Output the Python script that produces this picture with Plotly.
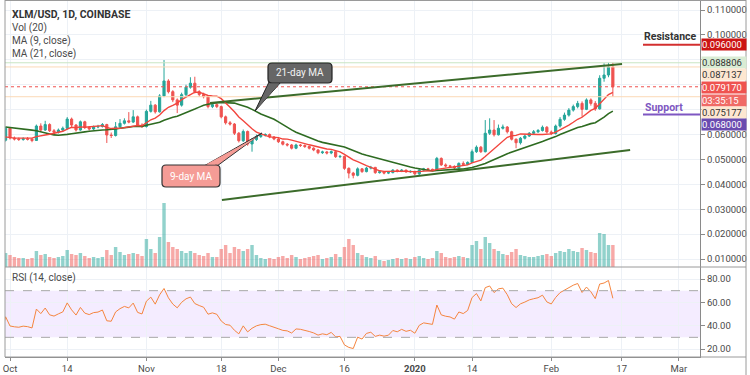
import plotly.graph_objects as go
import pandas as pd
import numpy as np

# ---------------- data ----------------
# closes before the visible window, only used to warm up MA / RSI
pre_dates = pd.date_range('2019-09-10', '2019-09-29')
pre_close = [0.0620, 0.0615, 0.0618, 0.0625, 0.0630, 0.0640, 0.0680, 0.0720, 0.0740, 0.0700,
             0.0680, 0.0650, 0.0610, 0.0600, 0.0580, 0.0585, 0.0575, 0.0580, 0.0578, 0.0577]

dates = pd.date_range('2019-09-30', '2020-02-15')

close = [0.0625, 0.0586, 0.0582, 0.0580, 0.0583, 0.0581, 0.0576, 0.0634, 0.0618, 0.0640, 0.0615,
         0.0610, 0.0618, 0.0625, 0.0662, 0.0638, 0.0618, 0.0651, 0.0628, 0.0622, 0.0630,
         0.0632, 0.0640, 0.0598, 0.0596, 0.0631, 0.0645, 0.0655, 0.0650, 0.0671, 0.0638,
         0.0632, 0.0693, 0.0718, 0.0691, 0.0755, 0.0815, 0.0772, 0.0739, 0.0718, 0.0760,
         0.0790, 0.0806, 0.0772, 0.0761, 0.0752, 0.0712, 0.0720, 0.0712, 0.0671, 0.0647,
         0.0642, 0.0605, 0.0575, 0.0612, 0.0562, 0.0580, 0.0592, 0.0598, 0.0600, 0.0590,
         0.0582, 0.0571, 0.0561, 0.0558, 0.0545, 0.0558, 0.0556, 0.0552, 0.0545, 0.0538,
         0.0527, 0.0530, 0.0526, 0.0531, 0.0511, 0.0512, 0.0464, 0.0445, 0.0436, 0.0462,
         0.0451, 0.0465, 0.0468, 0.0447, 0.0450, 0.0445, 0.0447, 0.0457, 0.0452, 0.0457,
         0.0450, 0.0452, 0.0442, 0.0457, 0.0462, 0.0460, 0.0458, 0.0504, 0.0478, 0.0474,
         0.0472, 0.0466, 0.0484, 0.0480, 0.0488, 0.0531, 0.0549, 0.0531, 0.0605, 0.0618,
         0.0599, 0.0625, 0.0630, 0.0611, 0.0581, 0.0567, 0.0585, 0.0594, 0.0605, 0.0611,
         0.0616, 0.0629, 0.0610, 0.0604, 0.0634, 0.0661, 0.0678, 0.0698, 0.0712, 0.0725,
         0.0701, 0.0739, 0.0725, 0.0703, 0.0826, 0.0839, 0.087137, 0.07917]

high = [0.0632, 0.0630, 0.0592, 0.0588, 0.0589, 0.0590, 0.0586, 0.0640, 0.0645, 0.0655, 0.0645,
        0.0622, 0.0624, 0.0632, 0.0670, 0.0668, 0.0642, 0.0656, 0.0655, 0.0634, 0.0636,
        0.0639, 0.0646, 0.0643, 0.0608, 0.0650, 0.0662, 0.0665, 0.0690, 0.0698, 0.0676,
        0.0645, 0.0700, 0.0735, 0.0722, 0.0762, 0.0899, 0.0822, 0.0778, 0.0745, 0.0768,
        0.0800, 0.0830, 0.0832, 0.0778, 0.0768, 0.0756, 0.0728, 0.0726, 0.0716, 0.0676,
        0.0654, 0.0646, 0.0610, 0.0620, 0.0616, 0.0586, 0.0600, 0.0606, 0.0605, 0.0604,
        0.0594, 0.0586, 0.0575, 0.0566, 0.0562, 0.0563, 0.0562, 0.0560, 0.0556, 0.0549,
        0.0541, 0.0535, 0.0534, 0.0536, 0.0534, 0.0518, 0.0515, 0.0468, 0.0450, 0.0468,
        0.0465, 0.0470, 0.0474, 0.0470, 0.0455, 0.0453, 0.0452, 0.0461, 0.0460, 0.0461,
        0.0459, 0.0456, 0.0454, 0.0461, 0.0466, 0.0466, 0.0463, 0.0510, 0.0508, 0.0484,
        0.0478, 0.0476, 0.0488, 0.0492, 0.0492, 0.0540, 0.0556, 0.0554, 0.0658, 0.0665,
        0.0658, 0.0640, 0.0640, 0.0634, 0.0615, 0.0584, 0.0590, 0.0600, 0.0610, 0.0618,
        0.0622, 0.0636, 0.0634, 0.0616, 0.0640, 0.0670, 0.0688, 0.0706, 0.0720, 0.0735,
        0.0733, 0.0745, 0.0745, 0.0734, 0.0838, 0.0886, 0.0888, 0.088806]

low = [0.0572, 0.0580, 0.0576, 0.0574, 0.0575, 0.0576, 0.0569, 0.0574, 0.0612, 0.0614, 0.0610,
       0.0602, 0.0604, 0.0612, 0.0620, 0.0630, 0.0612, 0.0615, 0.0622, 0.0616, 0.0618,
       0.0625, 0.0628, 0.0566, 0.0586, 0.0592, 0.0628, 0.0640, 0.0645, 0.0646, 0.0632,
       0.0626, 0.0628, 0.0688, 0.0684, 0.0688, 0.0750, 0.0765, 0.0730, 0.0686, 0.0712,
       0.0750, 0.0784, 0.0765, 0.0752, 0.0745, 0.0705, 0.0706, 0.0706, 0.0665, 0.0640,
       0.0636, 0.0598, 0.0568, 0.0570, 0.0555, 0.0531, 0.0574, 0.0586, 0.0592, 0.0585,
       0.0577, 0.0566, 0.0556, 0.0552, 0.0540, 0.0541, 0.0550, 0.0546, 0.0540, 0.0533,
       0.0521, 0.0522, 0.0520, 0.0521, 0.0506, 0.0505, 0.0458, 0.0424, 0.0424, 0.0432,
       0.0446, 0.0448, 0.0460, 0.0442, 0.0443, 0.0440, 0.0441, 0.0444, 0.0448, 0.0449,
       0.0446, 0.0446, 0.0436, 0.0435, 0.0452, 0.0455, 0.0453, 0.0455, 0.0474, 0.0468,
       0.0466, 0.0460, 0.0463, 0.0476, 0.0477, 0.0486, 0.0526, 0.0526, 0.0528, 0.0598,
       0.0592, 0.0596, 0.0620, 0.0604, 0.0576, 0.0545, 0.0560, 0.0580, 0.0590, 0.0600,
       0.0606, 0.0612, 0.0604, 0.0598, 0.0600, 0.0628, 0.0655, 0.0672, 0.0692, 0.0705,
       0.0671, 0.0698, 0.0716, 0.0695, 0.0700, 0.0812, 0.0830, 0.075177]

# daily volume (millions of XLM, relative)
volume = [14, 12, 10, 9, 9, 8, 9, 16, 12, 13, 10,
          9, 10, 11, 17, 13, 12, 14, 11, 9, 10,
          9, 10, 17, 12, 20, 15, 12, 13, 14, 13,
          11, 28, 18, 14, 30, 64, 25, 20, 18, 16,
          14, 16, 14, 12, 11, 14, 10, 10, 18, 22,
          14, 20, 18, 16, 18, 22, 12, 9, 8, 9,
          8, 10, 11, 9, 12, 10, 8, 9, 10, 11,
          12, 8, 9, 10, 13, 10, 20, 28, 22, 14,
          12, 10, 9, 11, 7, 6, 7, 8, 9, 8,
          9, 8, 10, 11, 9, 8, 9, 16, 14, 10,
          9, 10, 11, 10, 9, 22, 26, 18, 30, 24,
          18, 16, 13, 12, 15, 18, 12, 11, 10, 10,
          11, 12, 13, 11, 14, 16, 15, 18, 16, 15,
          19, 17, 15, 14, 34, 33, 22, 22]

assert len(close) == len(high) == len(low) == len(volume) == len(dates)

# chart drawings
upper_trend_dates = ['2019-11-15 11:00', '2020-02-17 02:00']
upper_trend_prices = [0.0727, 0.0883]
lower_trend_dates = ['2019-11-18 04:00', '2020-02-18 22:00']
lower_trend_prices = [0.0337, 0.0538]
resistance_price = 0.096
support_price = 0.068
last_high, last_open, last_close, last_low = 0.088806, 0.087137, 0.07917, 0.075177

price_ticks = [0.01, 0.02, 0.03, 0.04, 0.05, 0.06, 0.07, 0.08, 0.09, 0.10, 0.11]
# 0.07-0.09 are hidden behind the coloured price tags on the axis
price_tick_text = ['0.010000', '0.020000', '0.030000', '0.040000', '0.050000', '0.060000',
                   '', '', '', '0.100000', '0.110000']
rsi_ticks = [20, 40, 60, 80]
x_tick_dates = ['2019-10-01', '2019-10-14', '2019-11-01', '2019-11-18', '2019-12-01', '2019-12-16',
                '2020-01-01', '2020-01-14', '2020-02-01', '2020-02-17', '2020-03-01']
x_tick_text = ['Oct', '14', 'Nov', '18', 'Dec', '16', '<b>2020</b>', '14', 'Feb', '17', 'Mar']

# ---------------- indicators ----------------
open_ = [pre_close[-1]] + close[:-1]
all_dates = pre_dates.append(dates)
all_close = pd.Series(pre_close + close, index=all_dates)
ma9 = all_close.rolling(9).mean()
ma21 = all_close.rolling(21).mean()
delta = all_close.diff()
gain = delta.clip(lower=0).ewm(alpha=1 / 14, adjust=False).mean()
loss = (-delta.clip(upper=0)).ewm(alpha=1 / 14, adjust=False).mean()
rsi = 100 - 100 / (1 + gain / loss)
rsi.iloc[:14] = np.nan

UP = '#26a69a'
DN = '#ef5350'
vol_colors = ['rgba(38,166,154,0.5)' if c >= o else 'rgba(239,83,80,0.5)' for o, c in zip(open_, close)]

fig = go.Figure()
fig.add_trace(go.Bar(x=dates, y=volume, marker=dict(color=vol_colors, line=dict(width=0)),
                     xaxis='x', yaxis='y', hoverinfo='skip'))
fig.add_trace(go.Scatter(x=all_dates, y=ma21, mode='lines', line=dict(color='#2e6b21', width=1.6),
                         xaxis='x', yaxis='y3'))
fig.add_trace(go.Scatter(x=all_dates, y=ma9, mode='lines', line=dict(color='#f2453d', width=1.4),
                         xaxis='x', yaxis='y3'))
fig.add_trace(go.Candlestick(x=dates, open=open_, high=high, low=low, close=close,
                             increasing=dict(line=dict(color=UP, width=1), fillcolor=UP),
                             decreasing=dict(line=dict(color=DN, width=1), fillcolor=DN),
                             whiskerwidth=0, xaxis='x', yaxis='y3'))
fig.add_trace(go.Scatter(x=all_dates, y=rsi, mode='lines', line=dict(color='#f5853f', width=1),
                         xaxis='x', yaxis='y2'))

PLOT_H = 357.0
PLOT_W = 695.0
split = 90 / PLOT_H
def px(xp):
    return (xp - 5) / PLOT_W
def py(yp):
    return 1 - yp / PLOT_H

GRID = '#edf1f6'
AX = '#8a8a8a'
FONT = 'Roboto, Arial, sans-serif'
TICKFONT = dict(size=9.5, color='#4a4a4a', family=FONT)

fig.update_layout(
    width=750, height=375, margin=dict(l=5, r=50, t=0, b=18, autoexpand=False),
    paper_bgcolor='white', plot_bgcolor='white', showlegend=False,
    font=dict(family=FONT, size=10, color='#4a4a4a'),
    bargap=0.22,
    xaxis=dict(domain=[0, 1], anchor='y2', type='date',
               range=['2019-09-29 20:44', '2020-03-05 19:12'],
               tickvals=x_tick_dates, ticktext=x_tick_text, tickangle=0,
               showgrid=True, gridcolor=GRID, gridwidth=1,
               ticks='outside', ticklen=3, tickcolor=AX,
               showline=True, linecolor=AX, linewidth=1, automargin=False,
               rangeslider=dict(visible=False), tickfont=TICKFONT),
    yaxis=dict(domain=[split, 1], anchor='x', range=[0, 267], visible=False, showgrid=False),
    yaxis3=dict(overlaying='y', anchor='x', side='right', range=[0.00679, 0.11402],
                tickvals=price_ticks, ticktext=price_tick_text, showgrid=True, gridcolor=GRID,
                ticks='outside', ticklen=4, tickcolor=AX, showline=True, linecolor=AX,
                zeroline=False, automargin=False, tickfont=TICKFONT),
    yaxis2=dict(domain=[0, split], anchor='x', side='right', range=[13.14, 90.29],
                tickvals=rsi_ticks, tickformat='.2f', showgrid=True, gridcolor=GRID,
                ticks='outside', ticklen=4, tickcolor=AX, showline=True, linecolor=AX,
                zeroline=False, automargin=False, tickfont=TICKFONT),
)

shapes = []
# RSI band and bounds
shapes.append(dict(type='rect', xref='paper', yref='y2', x0=0, x1=1, y0=30, y1=70,
                   fillcolor='rgba(170,110,255,0.13)', line=dict(width=0), layer='below'))
for lvl in (30, 70):
    shapes.append(dict(type='line', xref='paper', yref='y2', x0=0, x1=1, y0=lvl, y1=lvl,
                       line=dict(color='#a8a8a8', width=1, dash='dash')))
# current-day horizontal price lines
shapes.append(dict(type='line', xref='paper', yref='y3', x0=0, x1=1, y0=last_high, y1=last_high,
                   line=dict(color='#c9e5c3', width=1)))
shapes.append(dict(type='line', xref='paper', yref='y3', x0=0, x1=1, y0=last_open, y1=last_open,
                   line=dict(color='#fbd9b7', width=1)))
shapes.append(dict(type='line', xref='paper', yref='y3', x0=0, x1=1, y0=last_close, y1=last_close,
                   line=dict(color='#ef5350', width=1, dash='dot')))
shapes.append(dict(type='line', xref='paper', yref='y3', x0=0, x1=1, y0=last_low, y1=last_low,
                   line=dict(color='#fbd9b7', width=1)))
# trend lines
shapes.append(dict(type='line', xref='x', yref='y3', x0=upper_trend_dates[0], x1=upper_trend_dates[1],
                   y0=upper_trend_prices[0], y1=upper_trend_prices[1], line=dict(color='#3b6b2a', width=2)))
shapes.append(dict(type='line', xref='x', yref='y3', x0=lower_trend_dates[0], x1=lower_trend_dates[1],
                   y0=lower_trend_prices[0], y1=lower_trend_prices[1], line=dict(color='#3b6b2a', width=2)))
# resistance / support marks
shapes.append(dict(type='line', xref='paper', yref='y3', x0=px(643), x1=1, y0=resistance_price,
                   y1=resistance_price, line=dict(color='#d32f2f', width=2)))
shapes.append(dict(type='line', xref='paper', yref='y3', x0=px(643), x1=1, y0=support_price,
                   y1=support_price, line=dict(color='#7e57c2', width=2)))
# pane separators & frame
for yy in (py(0.5), py(267), py(357)):
    shapes.append(dict(type='line', xref='paper', yref='paper', x0=0, x1=px(746), y0=yy, y1=yy,
                       line=dict(color='#9a9a9a', width=1)))
shapes.append(dict(type='line', xref='paper', yref='paper', x0=px(746), x1=px(746), y0=py(375), y1=1,
                   line=dict(color='#9a9a9a', width=1)))
shapes.append(dict(type='line', xref='paper', yref='paper', x0=0, x1=0, y0=0, y1=1,
                   line=dict(color='#9a9a9a', width=1)))

def rounded_rect(x0, y0, x1, y1, r=4):
    return (f"M {px(x0 + r)} {py(y0)} L {px(x1 - r)} {py(y0)} Q {px(x1)} {py(y0)} {px(x1)} {py(y0 + r)} "
            f"L {px(x1)} {py(y1 - r)} Q {px(x1)} {py(y1)} {px(x1 - r)} {py(y1)} "
            f"L {px(x0 + r)} {py(y1)} Q {px(x0)} {py(y1)} {px(x0)} {py(y1 - r)} "
            f"L {px(x0)} {py(y0 + r)} Q {px(x0)} {py(y0)} {px(x0 + r)} {py(y0)} Z")

def tri(a, b, c):
    return f"M {px(a[0])} {py(a[1])} L {px(b[0])} {py(b[1])} L {px(c[0])} {py(c[1])} Z"

# 21-day MA callout
shapes.append(dict(type='path', xref='paper', yref='paper', path=tri((269, 82), (281, 82), (255, 111)),
                   fillcolor='#666666', line=dict(color='#222222', width=1)))
shapes.append(dict(type='path', xref='paper', yref='paper', path=rounded_rect(268, 63, 332, 83),
                   fillcolor='#666666', line=dict(color='#222222', width=1.2)))
shapes.append(dict(type='path', xref='paper', yref='paper', path=tri((270.5, 83.5), (279.5, 83.5), (257, 109)),
                   fillcolor='#666666', line=dict(width=0)))
# 9-day MA callout
shapes.append(dict(type='path', xref='paper', yref='paper', path=tri((204, 166), (217, 166), (262, 133)),
                   fillcolor='#f59c96', line=dict(color='#333333', width=1)))
shapes.append(dict(type='path', xref='paper', yref='paper', path=rounded_rect(162, 165, 220, 187),
                   fillcolor='#f59c96', line=dict(color='#333333', width=1.2)))
shapes.append(dict(type='path', xref='paper', yref='paper', path=tri((206, 164.5), (215, 164.5), (259, 136)),
                   fillcolor='#f59c96', line=dict(width=0)))
fig.update_layout(shapes=shapes)

ann = []
def text(xp, yp, s, size=10, color='#4a4a4a', bold=False, xanchor='left'):
    ann.append(dict(xref='paper', yref='paper', x=px(xp), y=py(yp), text=(f'<b>{s}</b>' if bold else s),
                    showarrow=False, xanchor=xanchor, yanchor='middle',
                    font=dict(size=size, color=color, family=FONT)))

text(10, 15, 'XLM/USD, 1D, COINBASE', size=10.5, color='#333333', bold=True)
text(10, 28, 'Vol (20)', size=10)
text(10, 41, 'MA (9, close)', size=10)
text(10, 54, 'MA (21, close)', size=10)
text(10, 278, 'RSI (14, close)', size=10)
text(300, 73, '21-day MA', size=10, color='#f2f2f2', xanchor='center')
text(191, 176, '9-day MA', size=10, color='#ffffff', xanchor='center')
text(670, 37, 'Resistance', size=10.5, color='#333333', bold=True, xanchor='center')
text(664, 107, 'Support', size=10.5, color='#7e57c2', bold=True, xanchor='center')

def axis_label(yp, s, bg, fg):
    ann.append(dict(xref='paper', yref='paper', x=1, y=py(yp), xshift=1, text=s, showarrow=False,
                    xanchor='left', yanchor='middle', width=44, height=11, align='left',
                    bgcolor=bg, borderpad=0, font=dict(size=9.5, color=fg, family=FONT)))

axis_label(44, f'{resistance_price:.6f}', '#cc1414', '#ffffff')
axis_label(62, f'{last_high:.6f}', '#d9ecd4', '#333333')
axis_label(74, f'{last_open:.6f}', '#fde7d1', '#333333')
axis_label(87, f'{last_close:.6f}', '#ef5350', '#ffffff')
axis_label(100, '03:35:15', '#f06a66', '#ffffff')
axis_label(112, f'{last_low:.6f}', '#fde7d1', '#333333')
axis_label(125, f'{support_price:.6f}', '#6a4bb0', '#ffffff')
fig.update_layout(annotations=ann)

# remove the page's default 8px body margin so the 750x375 figure fills the window
fig.write_html('out.html', config={'displayModeBar': False},
               post_script="document.body.style.margin='0';")
